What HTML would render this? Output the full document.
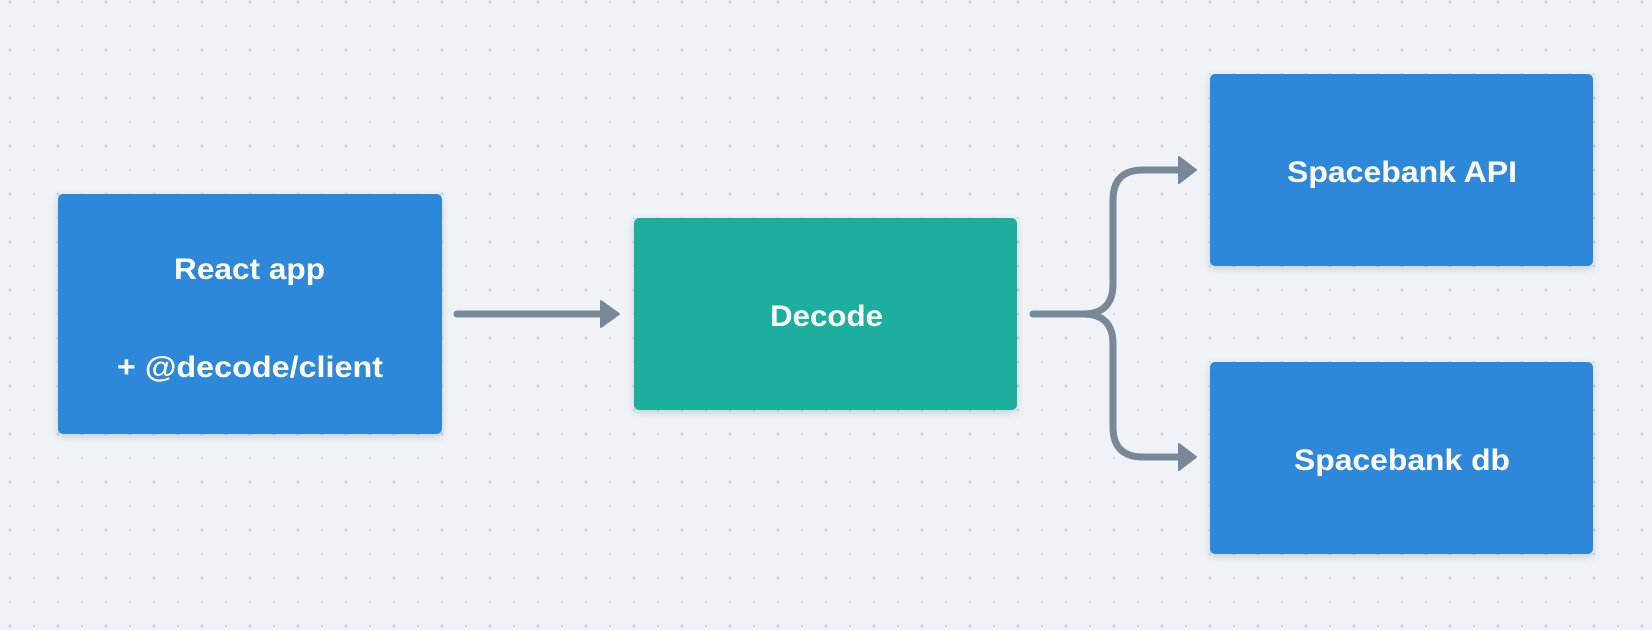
<!DOCTYPE html>
<html><head><meta charset="utf-8"><style>
html,body{margin:0;padding:0;background:#eff3f7;width:1652px;height:630px;overflow:hidden}
</style></head><body>
<svg width="1652" height="630" xmlns="http://www.w3.org/2000/svg">
<defs>
<pattern id="dots" x="-2" y="-10" width="48" height="48" patternUnits="userSpaceOnUse">
<circle cx="12" cy="12" r="1.6" fill="#cfd7e0"/>
<circle cx="36" cy="12" r="1.1" fill="#cfd7e0"/>
<circle cx="12" cy="36" r="1.1" fill="#cfd7e0"/>
<circle cx="36" cy="36" r="1.1" fill="#cfd7e0"/>
</pattern>
<filter id="sh" x="-10%" y="-10%" width="120%" height="130%">
<feDropShadow dx="0" dy="3" stdDeviation="4" flood-color="#000" flood-opacity="0.15"/>
</filter>
</defs>
<rect width="1652" height="630" fill="#eff3f7"/>
<rect width="1652" height="630" fill="url(#dots)"/>
<g filter="url(#sh)">
<rect x="58" y="194" width="384" height="240" rx="5" fill="#2d88d9"/>
<rect x="634" y="218" width="383" height="192" rx="5" fill="#1caf9e"/>
<rect x="1210" y="74" width="383" height="192" rx="5" fill="#2d88d9"/>
<rect x="1210" y="362" width="383" height="192" rx="5" fill="#2d88d9"/>
</g>
<g stroke="#788896" stroke-width="7" fill="none" stroke-linecap="round">
<line x1="457" y1="314" x2="605" y2="314"/>
<path d="M1033 314 H1083 Q1113 314 1113 284 V200 Q1113 170 1143 170 H1180"/>
<path d="M1083 314 Q1113 314 1113 344 V427 Q1113 457 1143 457 H1180"/>
</g>
<g fill="#788896" stroke="#788896" stroke-width="2" stroke-linejoin="round">
<polygon points="601,301 619,314 601,327"/>
<polygon points="1179,157 1196,170 1179,183"/>
<polygon points="1179,444 1196,457 1179,470"/>
</g>
<g fill="#fff" font-family="Liberation Sans, sans-serif" font-weight="bold" font-size="30">
<text x="174" y="279" textLength="151" lengthAdjust="spacingAndGlyphs">React app</text>
<text x="117" y="377" textLength="266" lengthAdjust="spacingAndGlyphs">+ @decode/client</text>
<text x="770" y="326" textLength="113" lengthAdjust="spacingAndGlyphs">Decode</text>
<text x="1287" y="182" textLength="230" lengthAdjust="spacingAndGlyphs">Spacebank API</text>
<text x="1294" y="470" textLength="216" lengthAdjust="spacingAndGlyphs">Spacebank db</text>
</g>
</svg>
</body></html>
